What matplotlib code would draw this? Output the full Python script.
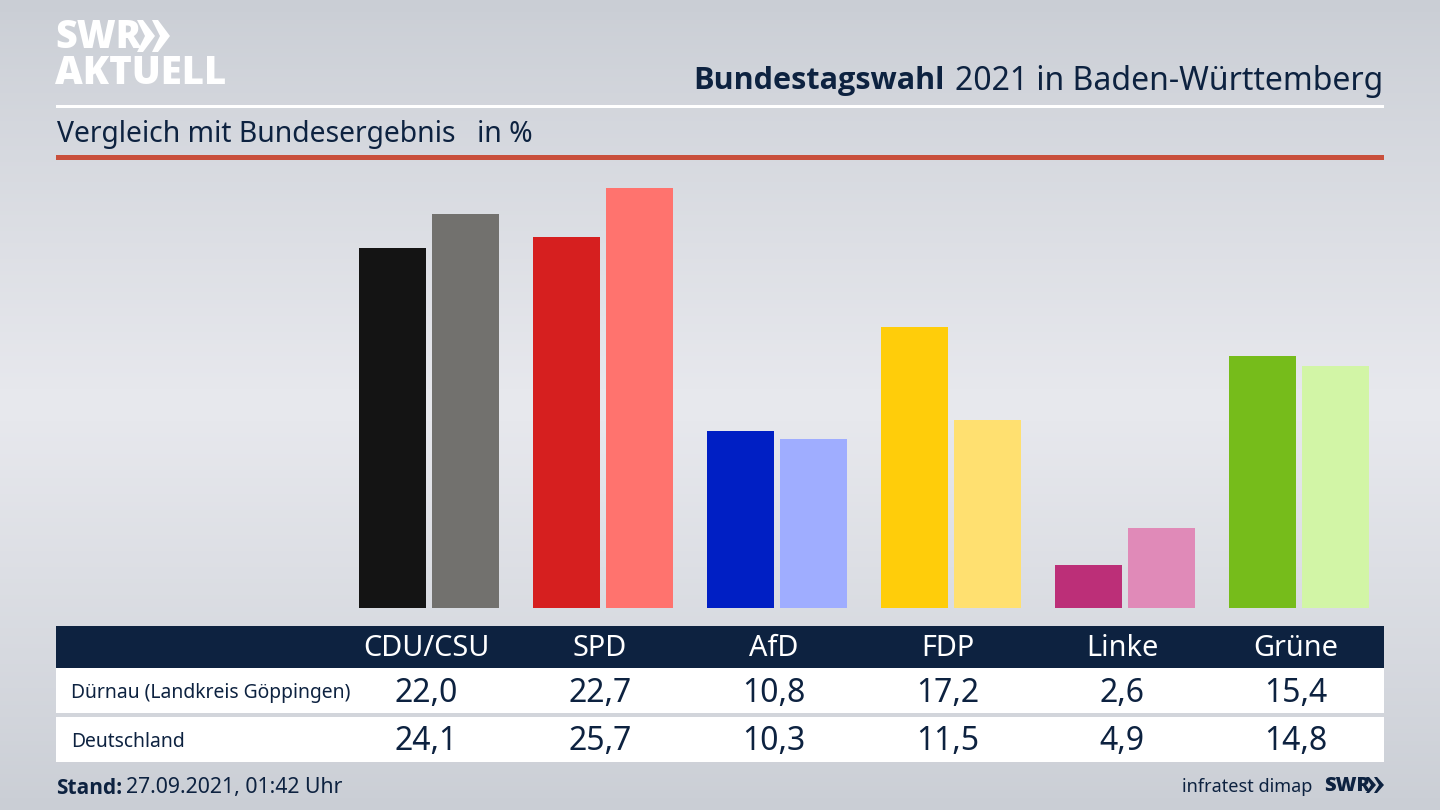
import numpy as np
import matplotlib
matplotlib.use("Agg")
import matplotlib.pyplot as plt
from matplotlib.patches import Rectangle, Polygon

parties = ["CDU/CSU", "SPD", "AfD", "FDP", "Linke", "Grüne"]
duernau = [22.0, 22.7, 10.8, 17.2, 2.6, 15.4]
deutschland = [24.1, 25.7, 10.3, 11.5, 4.9, 14.8]
colors_local = ["#141414", "#d61f1f", "#001fc4", "#ffcd0a", "#bc2f78", "#76bc1b"]
colors_national = ["#72716e", "#ff736e", "#9fadff", "#ffe070", "#e08ab8", "#d2f5a6"]
row_labels = ["Dürnau (Landkreis Göppingen)", "Deutschland"]

navy = "#0d2240"
plt.rcParams["font.family"] = ["Noto Sans", "DejaVu Sans"]


def fmt(v):
    return f"{v:.1f}".replace(".", ",")


fig = plt.figure(figsize=(14.4, 8.1), dpi=100)

# background and furniture, in pixel coordinates
bg = fig.add_axes([0, 0, 1, 1])
bg.set_xlim(0, 1440)
bg.set_ylim(810, 0)
bg.axis("off")
yy = np.linspace(0, 1, 200)
shade = 1 - np.abs(yy - 0.5) * 2
top = np.array([202, 206, 213]) / 255
mid = np.array([232, 233, 238]) / 255
grad = top + (mid - top) * shade[:, None] ** 0.9
bg.imshow(grad[:, None, :], extent=[0, 1440, 810, 0], aspect="auto", zorder=0)

bg.add_patch(Rectangle((56, 105), 1328, 2.5, color="white", lw=0))
bg.add_patch(Rectangle((56, 155), 1328, 5, color="#c9503c", lw=0))
bg.add_patch(Rectangle((56, 626), 1328, 42, color=navy, lw=0))
bg.add_patch(Rectangle((56, 668), 1328, 45, color="white", lw=0))
bg.add_patch(Rectangle((56, 717), 1328, 45, color="white", lw=0))

# logo
bg.text(55, 38, "SWR", color="white", fontsize=27, fontweight=800, family="Open Sans",
        va="center", ha="left")
for x0 in (137, 152):
    bg.add_patch(Polygon([(x0, 20), (x0 + 6, 20), (x0 + 18, 36), (x0 + 6, 52), (x0, 52), (x0 + 8, 36)],
                         color="white", lw=0))
bg.text(55, 74, "AKTUELL", color="white", fontsize=27.5, fontweight=800, family="Open Sans",
        va="center", ha="left")

# titles
bg.text(1383, 81, "2021 in Baden-Württemberg", color=navy, fontsize=23, ha="right", va="center")
bg.text(945, 81, "Bundestagswahl", color=navy, fontsize=22.1, fontweight="bold", family="Open Sans",
        ha="right", va="center")
bg.text(57, 142, "Vergleich mit Bundesergebnis", color=navy, fontsize=20.4, ha="left", va="baseline")
bg.text(477, 142, "in %", color=navy, fontsize=20.4, ha="left", va="baseline")

# bars
ax = fig.add_axes([342 / 1440, (810 - 608) / 810, 1044 / 1440, 448 / 810])
ax.patch.set_alpha(0)
ax.set_xlim(-0.5, 5.5)
ax.set_ylim(0, 448 / 16.36)
ax.axis("off")
x = np.arange(len(parties))
ax.bar(x - 0.211, duernau, width=0.388, color=colors_local)
ax.bar(x + 0.211, deutschland, width=0.388, color=colors_national)

# table
xc = [426 + 174 * i for i in range(len(parties))]
for i, party in enumerate(parties):
    bg.text(xc[i], 649, party, color="white", fontsize=20.8, ha="center", va="center")
    bg.text(xc[i], 694, fmt(duernau[i]), color=navy, fontsize=23, ha="center", va="center")
    bg.text(xc[i], 742, fmt(deutschland[i]), color=navy, fontsize=23, ha="center", va="center")
bg.text(71, 693, row_labels[0], color=navy, fontsize=13.9, ha="left", va="center")
bg.text(71, 742, row_labels[1], color=navy, fontsize=13.9, ha="left", va="center")

# footer
bg.text(56, 788, "Stand:", color=navy, fontsize=15, fontweight="bold", family="Open Sans",
        ha="left", va="center")
bg.text(126, 788, "27.09.2021, 01:42 Uhr", color=navy, fontsize=15.3, ha="left", va="center")
bg.text(1312, 787, "infratest dimap", color=navy, fontsize=13, ha="right", va="center")
bg.text(1324, 786, "SWR", color=navy, fontsize=14.5, fontweight=800, family="Open Sans",
        ha="left", va="center")
for x0 in (1366, 1374):
    bg.add_patch(Polygon([(x0, 777), (x0 + 3, 777), (x0 + 10, 785), (x0 + 3, 793), (x0, 793), (x0 + 5, 785)],
                         color=navy, lw=0))

fig.savefig("out.png", dpi=100)
